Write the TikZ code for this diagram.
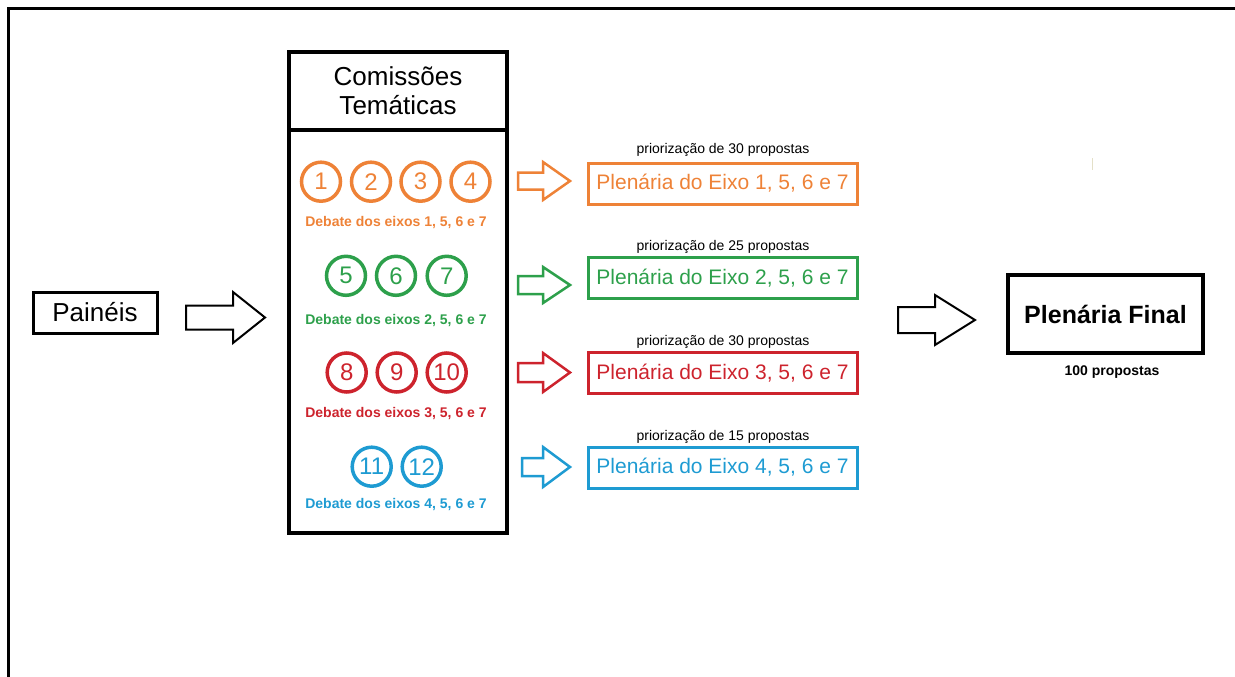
\documentclass[tikz,border=0pt]{standalone}
\usepackage{fontspec}
\setmainfont{Liberation Sans}
\definecolor{corange}{RGB}{238,130,55}
\definecolor{cgreen}{RGB}{45,160,75}
\definecolor{cred}{RGB}{205,35,45}
\definecolor{cblue}{RGB}{30,155,210}
\definecolor{ctick}{RGB}{228,224,200}
\tikzset{
  pics/blockarrow/.style args={#1/#2/#3/#4}{code={%
    \draw[pic actions] (0,#4) -- (#2,#4) -- (#2,#3) -- (#1,0) -- (#2,-#3) -- (#2,-#4) -- (0,-#4) -- cycle;
  }},
  blackbox/.style={draw=black, rectangle, inner sep=0pt},
  numcircle/.style={draw=#1, text=#1, circle, line width=3.5pt, minimum size=39pt, inner sep=0pt, font=\fontsize{24}{24}\selectfont},
  debatetxt/.style={text=#1, inner sep=0pt, font=\bfseries\fontsize{14}{14}\selectfont},
  plenbox/.style={draw=#1, text=#1, rectangle, line width=3pt, minimum width=269pt, minimum height=41pt, inner sep=0pt, font=\fontsize{21}{21}\selectfont},
  priotxt/.style={inner sep=0pt, font=\fontsize{14}{14}\selectfont},
  colarrow/.style={draw=#1, fill=white, line width=2.5pt, line join=miter},
  blkarrow/.style={draw=black, fill=white, line width=2pt, line join=miter},
}
\begin{document}
\begin{tikzpicture}[x=1pt,y=-1pt]
\useasboundingbox (0,0) rectangle (1235,677);
% frame
\draw[line width=3pt] (8,677) -- (8,9) -- (1235,9);

% Painéis
\node[blackbox, line width=3pt, minimum width=124pt, minimum height=41pt, font=\fontsize{26}{26}\selectfont] (pan) at (95,312.5) {Painéis};
\pic[blkarrow] (ar1) at (186,317.5) {blockarrow=79/47/25.5/12};

% Comissões
\node[blackbox, line width=4pt, minimum width=218pt, minimum height=481pt] (com) at (398,292.5) {};
\coordinate (sepw) at (289,130);
\coordinate (sepe) at (507,130);
\draw[line width=4pt] (sepw) -- (sepe);
\node[inner sep=0pt, align=center, font=\fontsize{26}{29}\selectfont] (comh) at (398,91) {Comissões\\Temáticas};

% orange
\node[numcircle=corange] (c1) at (321,181.7) {1};
\node[numcircle=corange] (c2) at (371,181.7) {2};
\node[numcircle=corange] (c3) at (420.5,181.7) {3};
\node[numcircle=corange] (c4) at (470.5,181.7) {4};
\node[debatetxt=corange] (d1) at (396,223) {Debate dos eixos 1, 5, 6 e 7};
% green
\node[numcircle=cgreen] (c5) at (346,275.8) {5};
\node[numcircle=cgreen] (c6) at (396,275.8) {6};
\node[numcircle=cgreen] (c7) at (446.7,275.8) {7};
\node[debatetxt=cgreen] (d2) at (396,321) {Debate dos eixos 2, 5, 6 e 7};
% red
\node[numcircle=cred] (c8) at (346.7,372.5) {8};
\node[numcircle=cred] (c9) at (396.7,372.5) {9};
\node[numcircle=cred] (c10) at (446.7,372.5) {10};
\node[debatetxt=cred] (d3) at (396,414) {Debate dos eixos 3, 5, 6 e 7};
% blue
\node[numcircle=cblue] (c11) at (371.7,466.7) {11};
\node[numcircle=cblue] (c12) at (421.7,466.7) {12};
\node[debatetxt=cblue] (d4) at (396,505) {Debate dos eixos 4, 5, 6 e 7};

% plenary boxes
\node[priotxt] (p1) at (723,150) {priorização de 30 propostas};
\node[plenbox=corange] (e1) at (722.5,183.5) {Plenária do Eixo 1, 5, 6 e 7};
\pic[colarrow=corange] (ao) at (518,181) {blockarrow=52/25/19/8.5};

\node[priotxt] (p2) at (723,247) {priorização de 25 propostas};
\node[plenbox=cgreen] (e2) at (722.5,278) {Plenária do Eixo 2, 5, 6 e 7};
\pic[colarrow=cgreen] (ag) at (518,285) {blockarrow=52/25/18/9};

\node[priotxt] (p3) at (723,342) {priorização de 30 propostas};
\node[plenbox=cred] (e3) at (722.5,373) {Plenária do Eixo 3, 5, 6 e 7};
\pic[colarrow=cred] (ar) at (518,372.5) {blockarrow=52/25/19.5/9.5};

\node[priotxt] (p4) at (723,437) {priorização de 15 propostas};
\node[plenbox=cblue] (e4) at (722.5,467.5) {Plenária do Eixo 4, 5, 6 e 7};
\pic[colarrow=cblue] (ab) at (522,467) {blockarrow=48/21/20/9};

% final
\pic[blkarrow] (ar2) at (898,320) {blockarrow=77/37/25/13};
\node[blackbox, line width=4.5pt, minimum width=195pt, minimum height=78pt, font=\bfseries\fontsize{25}{25}\selectfont] (fin) at (1105.5,314) {Plenária Final};
\node[inner sep=0pt, font=\bfseries\fontsize{14}{14}\selectfont] (cem) at (1112,372) {100 propostas};

% small tick
\coordinate (t1) at (1092,158);
\coordinate (t2) at (1092,170);
\draw[ctick, line width=1pt] (t1) -- (t2);
\end{tikzpicture}
\end{document}
